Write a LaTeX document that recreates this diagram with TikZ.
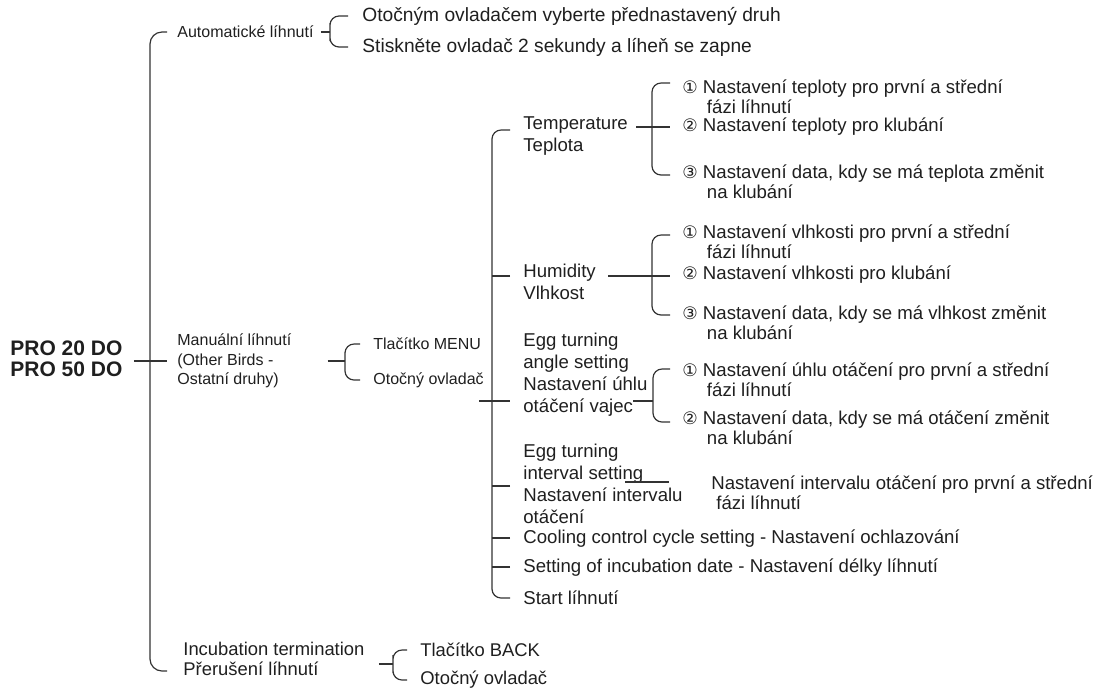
\documentclass[tikz,border=0pt]{standalone}
\usepackage{fontspec}
\setmainfont{Liberation Sans}
\newfontfamily\circfont{DejaVu Sans}
\usetikzlibrary{positioning}
\newcommand{\cnum}[1]{{\circfont\fontsize{8.6}{10}\selectfont#1}}

\begin{document}
\begin{tikzpicture}[
    x=0.5pt, y=-0.5pt,
    label/.style = {anchor=west, inner sep=0pt, align=left, text=black!88, font=\fontsize{9.3}{11}\selectfont},
    top/.style = {label, font=\fontsize{9.6}{11}\selectfont},
    small/.style = {label, font=\fontsize{8}{9.75}\selectfont},
    item/.style = {label, font=\fontsize{9.3}{10}\selectfont},
    low/.style = {label, font=\fontsize{9.2}{9.7}\selectfont},
    root/.style = {label, font=\fontsize{10.5}{10.6}\selectfont\bfseries},
    link/.style = {draw=black!80, line width=0.6pt},
    brace/.style = {link, rounded corners=4.5pt}
]
    \useasboundingbox (0,0) rectangle (1103,693);

    % Root and first level
    \node [root] (pro) at (10,359) {PRO 20 DO\\PRO 50 DO};
    \node [small] (auto) at (177,32) {Automatické líhnutí};
    \node [small] (manual) at (177,361) {Manuální líhnutí\\(Other Birds -\\Ostatní druhy)};
    \node [low] (term) at (183,659) {Incubation termination\\Přerušení líhnutí};

    % Automatic
    \node [top] (a1) at (362,16) {Otočným ovladačem vyberte přednastavený druh};
    \node [top] (a2) at (362,47) {Stiskněte ovladač 2 sekundy a líheň se zapne};

    % Manual
    \node [small] (menu) at (373,344) {Tlačítko MENU};
    \node [small] (knob) at (373,380) {Otočný ovladač};

    % Menu items
    \node [label] (temp) at (523,136) {Temperature\\Teplota};
    \node [label] (hum) at (523,281.5) {Humidity\\Vlhkost};
    \node [label] (angle) at (523,375) {Egg turning\\angle setting\\Nastavení úhlu\\otáčení vajec};
    \node [label] (interval) at (523,484) {Egg turning\\interval setting\\Nastavení intervalu\\otáčení};
    \node [label] (cool) at (523,539) {Cooling control cycle setting - Nastavení ochlazování};
    \node [label] (date) at (523,568) {Setting of incubation date - Nastavení délky líhnutí};
    \node [label] (start) at (523,598) {Start líhnutí};

    % Temperature
    \node [item] (t1) at (682,97) {\cnum{①} Nastavení teploty pro první a střední\\\hphantom{\cnum{①}}\hspace{2pt} fázi líhnutí};
    \node [item] (t2) at (682,127) {\cnum{②} Nastavení teploty pro klubání};
    \node [item] (t3) at (682,182) {\cnum{③} Nastavení data, kdy se má teplota změnit\\\hphantom{\cnum{③}}\hspace{2pt} na klubání};

    % Humidity
    \node [item] (h1) at (682,242) {\cnum{①} Nastavení vlhkosti pro první a střední\\\hphantom{\cnum{①}}\hspace{2pt} fázi líhnutí};
    \node [item] (h2) at (682,275) {\cnum{②} Nastavení vlhkosti pro klubání};
    \node [item] (h3) at (682,323) {\cnum{③} Nastavení data, kdy se má vlhkost změnit\\\hphantom{\cnum{③}}\hspace{2pt} na klubání};

    % Egg turning angle
    \node [item] (g1) at (682,380) {\cnum{①} Nastavení úhlu otáčení pro první a střední\\\hphantom{\cnum{①}}\hspace{2pt} fázi líhnutí};
    \node [item] (g2) at (682,428) {\cnum{②} Nastavení data, kdy se má otáčení změnit\\\hphantom{\cnum{②}}\hspace{2pt} na klubání};

    % Egg turning interval
    \node [item] (i1) at (711,493) {Nastavení intervalu otáčení pro první a střední\\\hspace*{2.5pt}fázi líhnutí};

    % Bottom
    \node [low] (back) at (420,650) {Tlačítko BACK};
    \node [low] (knob2) at (420,680) {Otočný ovladač};

    % Spines
    \coordinate (trunk) at (150,361);
    \coordinate (trunk-end) at (167,671);
    \coordinate (a-sp) at (330,32);
    \coordinate (m-sp) at (345,361);
    \coordinate (s-sp) at (492,401);
    \coordinate (t-sp) at (652,127);
    \coordinate (h-sp) at (652,276);
    \coordinate (g-sp) at (653,401);
    \coordinate (b-sp) at (393,664);

    % Arrows - Root
    \draw [brace, rounded corners=6pt] ([xshift=-5pt]auto.west) -| (trunk) |- (trunk-end);
    \draw [link] ([xshift=5.5pt]pro.east |- trunk) -- ([xshift=-5pt]manual.west |- trunk);

    % Arrows - Automatic
    \draw [link] ([xshift=3.5pt]auto.east) -- (a-sp);
    \draw [brace] ([xshift=-7pt]a1.west) -| (a-sp) |- ([xshift=-7pt]a2.west);

    % Arrows - Manual
    \draw [link] ([xshift=18pt]manual.east) -- (m-sp);
    \draw [brace] ([xshift=-6.5pt]menu.west) -| (m-sp) |- ([xshift=-6.5pt]knob.west);
    \draw [link] ([xshift=-2.5pt]knob.east |- s-sp) -- ([xshift=-6.5pt]angle.west |- s-sp);
    \draw [brace] ([shift={(-6.5pt,3pt)}]temp.west) -| (s-sp) |- ([xshift=-6.5pt]start.west);
    \draw [link] ([shift={(-6.5pt,2.75pt)}]hum.west) -- +(-9pt,0);
    \draw [link] ([shift={(-6.5pt,-1pt)}]interval.west) -- +(-9pt,0);
    \draw [link] ([shift={(-6.5pt,0.5pt)}]cool.west) -- +(-9pt,0);
    \draw [link] ([shift={(-6.5pt,0.5pt)}]date.west) -- +(-9pt,0);

    % Arrows - Temperature
    \draw [link] ([xshift=4pt]temp.east |- t-sp) -- ([xshift=-6pt]t2.west);
    \draw [brace] ([shift={(-6pt,7pt)}]t1.west) -| (t-sp) |- ([shift={(-6pt,3.5pt)}]t3.west);

    % Arrows - Humidity
    \draw [link] ([xshift=6pt]hum.east |- h-sp) -- ([xshift=-6pt]h2.west |- h-sp);
    \draw [brace] ([shift={(-6pt,3.5pt)}]h1.west) -| (h-sp) |- ([shift={(-6pt,4pt)}]h3.west);

    % Arrows - Egg turning
    \draw [link] ([xshift=-10pt]g-sp) -- (g-sp);
    \draw [brace] ([shift={(-6pt,5.5pt)}]g1.west) -| (g-sp) |- ([shift={(-6pt,3pt)}]g2.west);
    \draw [link] ([shift={(-43pt,5.5pt)}]i1.west) -- ([shift={(-21pt,5.5pt)}]i1.west);

    % Arrows - Termination
    \draw [link] ([xshift=7pt]term.east |- b-sp) -- (b-sp);
    \draw [brace] ([xshift=-6.5pt]back.west) -| (b-sp) |- ([xshift=-6.5pt]knob2.west);
\end{tikzpicture}
\end{document}
